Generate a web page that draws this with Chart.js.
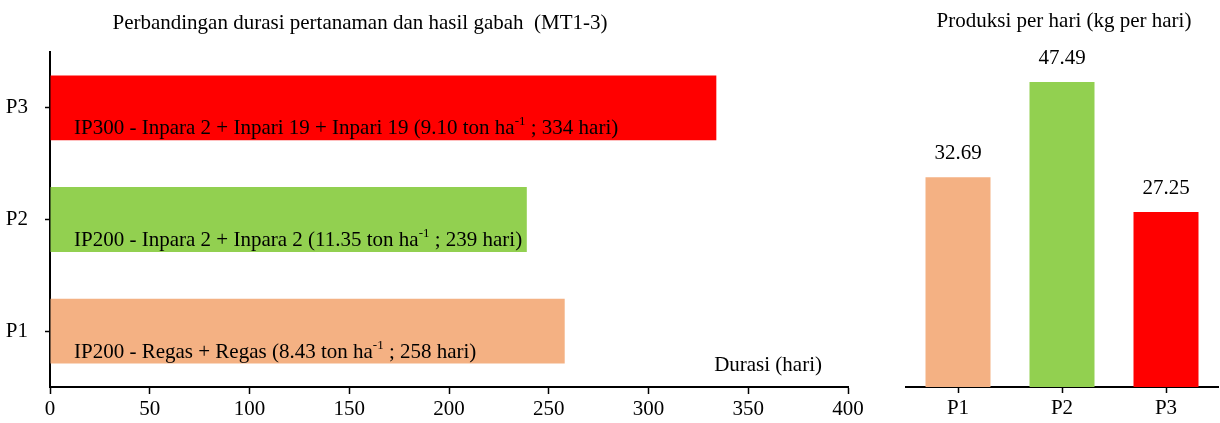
<!DOCTYPE html>
<html>
<head>
<meta charset="utf-8">
<script src="https://cdn.jsdelivr.net/npm/chart.js@4/dist/chart.umd.min.js"></script>
<style>
  body { margin: 0; background: #fff; }
  #wrap { position: relative; width: 1220px; height: 423px; }
  #durasiBox { position: absolute; left: 0; top: 0; width: 880px; height: 423px; }
  #produksiBox { position: absolute; left: 880px; top: 0; width: 340px; height: 423px; }
</style>
</head>
<body>
<div id="wrap">
  <div id="durasiBox"><canvas id="durasiChart"></canvas></div>
  <div id="produksiBox"><canvas id="produksiChart"></canvas></div>
</div>
<script>
// data
const categories = ['P1', 'P2', 'P3'];
const durasi = [258, 239, 334];          // hari
const hasilGabah = [8.43, 11.35, 9.10];  // ton ha-1
const polaTanam = [
    'IP200 - Regas + Regas',
    'IP200 - Inpara 2 + Inpara 2',
    'IP300 - Inpara 2 + Inpari 19 + Inpari 19'
];
const produksi = [32.69, 47.49, 27.25];  // kg per hari
const barColors = ['#F4B183', '#92D050', '#FF0000'];

const FONT = '"Liberation Serif", "Times New Roman", serif';
const FS = 21;
Chart.defaults.font.family = FONT;
Chart.defaults.color = '#000';

// judul di atas grafik
function titlePlugin(text, cx, cy) {
    return {
        id: 'judul',
        afterDraw(chart) {
            const ctx = chart.ctx;
            ctx.save();
            ctx.font = FS + 'px ' + FONT;
            ctx.fillStyle = '#000';
            ctx.textAlign = 'center';
            ctx.textBaseline = 'middle';
            ctx.fillText(text, cx, cy);
            ctx.restore();
        }
    };
}

// label di dalam batang + judul sumbu
const barTextPlugin = {
    id: 'barText',
    afterDatasetsDraw(chart) {
        const ctx = chart.ctx;
        const meta = chart.getDatasetMeta(0);
        const x0 = chart.scales.x.getPixelForValue(0) + 24;
        ctx.save();
        ctx.fillStyle = '#000';
        ctx.textBaseline = 'middle';
        ctx.textAlign = 'left';
        meta.data.forEach((bar, i) => {
            const y = bar.y + 21;
            const p1 = `${polaTanam[i]} (${hasilGabah[i].toFixed(2)} ton ha`;
            const p2 = '-1';
            const p3 = ` ; ${durasi[i]} hari)`;
            let x = x0;
            ctx.font = FS + 'px ' + FONT;
            ctx.fillText(p1, x, y);
            x += ctx.measureText(p1).width;
            ctx.font = '13px ' + FONT;
            ctx.fillText(p2, x, y - 7);
            x += ctx.measureText(p2).width;
            ctx.font = FS + 'px ' + FONT;
            ctx.fillText(p3, x, y);
        });
        const area = chart.chartArea;
        ctx.textAlign = 'right';
        ctx.fillText('Durasi (hari)', area.right - 26, area.bottom - 22);
        ctx.restore();
    }
};

new Chart(document.getElementById('durasiChart'), {
    type: 'bar',
    data: {
        labels: categories,
        datasets: [{
            data: durasi,
            backgroundColor: barColors,
            categoryPercentage: 1,
            barPercentage: 0.58
        }]
    },
    options: {
        indexAxis: 'y',
        responsive: true,
        maintainAspectRatio: false,
        animation: false,
        layout: { padding: { left: 0, right: 32, top: 52, bottom: 0 } },
        plugins: { legend: { display: false }, tooltip: { enabled: false } },
        scales: {
            x: {
                min: 0,
                max: 400,
                ticks: { stepSize: 50, font: { size: FS }, padding: 3 },
                grid: { drawOnChartArea: false, tickLength: 7, color: '#000', tickWidth: 1.5 },
                border: { color: '#000', width: 2 },
                afterFit(scale) { scale.height = 36; }
            },
            y: {
                reverse: true,
                ticks: { font: { size: FS }, padding: 17 },
                grid: { offset: false, drawOnChartArea: false, tickLength: 5, color: '#000', tickWidth: 1.5 },
                border: { color: '#000', width: 2 },
                afterFit(scale) { scale.width = 50; }
            }
        }
    },
    plugins: [barTextPlugin, titlePlugin('Perbandingan durasi pertanaman dan hasil gabah  (MT1-3)', 360, 23)]
});

// nilai di atas batang
const valuePlugin = {
    id: 'nilai',
    afterDatasetsDraw(chart) {
        const ctx = chart.ctx;
        const meta = chart.getDatasetMeta(0);
        ctx.save();
        ctx.font = FS + 'px ' + FONT;
        ctx.fillStyle = '#000';
        ctx.textAlign = 'center';
        ctx.textBaseline = 'middle';
        meta.data.forEach((bar, i) => {
            ctx.fillText(produksi[i].toFixed(2), bar.x, bar.y - 24);
        });
        ctx.restore();
    }
};

new Chart(document.getElementById('produksiChart'), {
    type: 'bar',
    data: {
        labels: categories,
        datasets: [{
            data: produksi,
            backgroundColor: barColors,
            categoryPercentage: 1,
            barPercentage: 0.625
        }]
    },
    options: {
        responsive: true,
        maintainAspectRatio: false,
        animation: false,
        layout: { padding: { left: 26, right: 2, top: 66, bottom: 0 } },
        plugins: { legend: { display: false }, tooltip: { enabled: false } },
        scales: {
            x: {
                ticks: { font: { size: FS }, padding: 3 },
                grid: { offset: false, drawOnChartArea: false, tickLength: 6, color: '#000', tickWidth: 1.5 },
                border: { color: '#000', width: 2 },
                afterFit(scale) { scale.height = 36; }
            },
            y: {
                display: false,
                min: 0,
                max: 50
            }
        }
    },
    plugins: [valuePlugin, titlePlugin('Produksi per hari (kg per hari)', 184, 21)]
});
</script>
</body>
</html>
